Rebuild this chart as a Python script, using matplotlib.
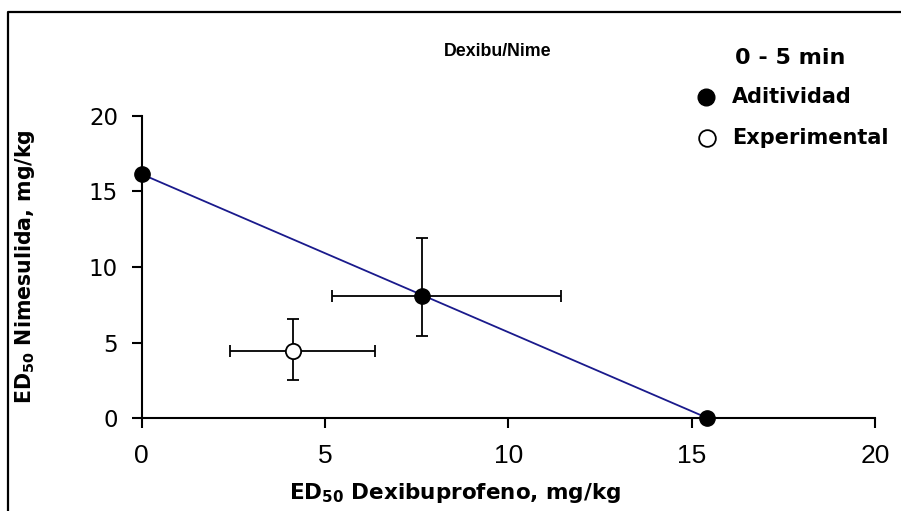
import matplotlib
matplotlib.use("Agg")
import matplotlib.pyplot as plt
from matplotlib.lines import Line2D

plt.rcParams['font.family'] = ['DejaVu Sans']
plt.rcParams['mathtext.fontset'] = 'dejavusans'

# Data
add_x = [0.0, 7.65, 15.43]
add_y = [16.15, 8.1, 0.0]
add_xerr_lo = [0.0, 2.46, 0.0]
add_xerr_hi = [0.0, 3.8, 0.0]
add_yerr_lo = [0.0, 2.65, 0.0]
add_yerr_hi = [0.0, 3.85, 0.0]

exp_x = [4.12]
exp_y = [4.45]
exp_xerr_lo = [1.7]
exp_xerr_hi = [2.25]
exp_yerr_lo = [1.95]
exp_yerr_hi = [2.1]

line_x = [0.0, 15.43]
line_y = [16.15, 0.0]

xticks = [0, 5, 10, 15, 20]
yticks = [0, 5, 10, 15, 20]

legend_title = '0 - 5 min'
legend_labels = ['Aditividad', 'Experimental']

fig = plt.figure(figsize=(9.01, 5.11), dpi=100)
ax = fig.add_axes([141.6/901, 1-418/511, (875-141.6)/901, (418-116)/511])

ax.plot(line_x, line_y, color='#1a1a8c', lw=1.3, zorder=2, clip_on=False)

ax.errorbar([add_x[1]], [add_y[1]],
            xerr=[[add_xerr_lo[1]], [add_xerr_hi[1]]],
            yerr=[[add_yerr_lo[1]], [add_yerr_hi[1]]],
            fmt='none', ecolor='black', elinewidth=1.3, capsize=4, capthick=1.3, zorder=3, clip_on=False)
ax.errorbar(exp_x, exp_y, xerr=[exp_xerr_lo, exp_xerr_hi], yerr=[exp_yerr_lo, exp_yerr_hi],
            fmt='none', ecolor='black', elinewidth=1.3, capsize=4, capthick=1.3, zorder=3, clip_on=False)

ax.plot(add_x, add_y, 'o', ms=11, mfc='black', mec='black', zorder=4, clip_on=False)
ax.plot(exp_x, exp_y, 'o', ms=11, mfc='white', mec='black', mew=1.3, zorder=4, clip_on=False)

ax.set_xlim(0, 20)
ax.set_ylim(0, 20)
ax.set_xticks(xticks)
ax.set_yticks(yticks)
for s in ['top', 'right']:
    ax.spines[s].set_visible(False)
for s in ['left', 'bottom']:
    ax.spines[s].set_linewidth(1.5)
ax.tick_params(direction='out', length=7, width=1.5)
ax.tick_params(axis='x', labelsize=16.5, pad=12)
ax.tick_params(axis='y', labelsize=16.5, pad=10)
for lab in ax.get_xticklabels():
    lab.set_family(['Liberation Sans', 'DejaVu Sans'])
    lab.set_fontsize(19)

ax.set_xlabel(r'ED$_{\mathbf{50}}$ Dexibuprofeno, mg/kg', fontsize=15.5, fontweight='bold', va='center')
ax.xaxis.set_label_coords((455-141.6)/733.4, (418-493)/302)
ax.set_ylabel(r'ED$_{\mathbf{50}}$ Nimesulida, mg/kg', fontsize=14.8, fontweight='bold', va='center')
ax.yaxis.set_label_coords((25-141.6)/733.4, (418-267)/302)

fig.text(498/901, 1-52/511, 'Dexibu/Nime', fontsize=12.8, fontweight='bold', ha='center', va='center',
         family=['Liberation Sans', 'DejaVu Sans'])

# legend (manual placement)
fig.text(790/901, 1-58/511, legend_title, fontsize=16, fontweight='bold', ha='center', va='center')
fig.add_artist(Line2D([706/901], [1-97/511], transform=fig.transFigure, ls='none', marker='o',
                      ms=12, mfc='black', mec='black'))
fig.add_artist(Line2D([707/901], [1-138/511], transform=fig.transFigure, ls='none', marker='o',
                      ms=12, mfc='white', mec='black', mew=1.3))
fig.text(732/901, 1-97/511, legend_labels[0], fontsize=15, fontweight='bold', ha='left', va='center')
fig.text(732/901, 1-138/511, legend_labels[1], fontsize=15, fontweight='bold', ha='left', va='center')

fig.add_artist(Line2D([8/901, 8/901, 1.0], [0.0, 1-12/511, 1-12/511],
                      transform=fig.transFigure, color='black', lw=1.6))

fig.savefig('out.png', dpi=100)
